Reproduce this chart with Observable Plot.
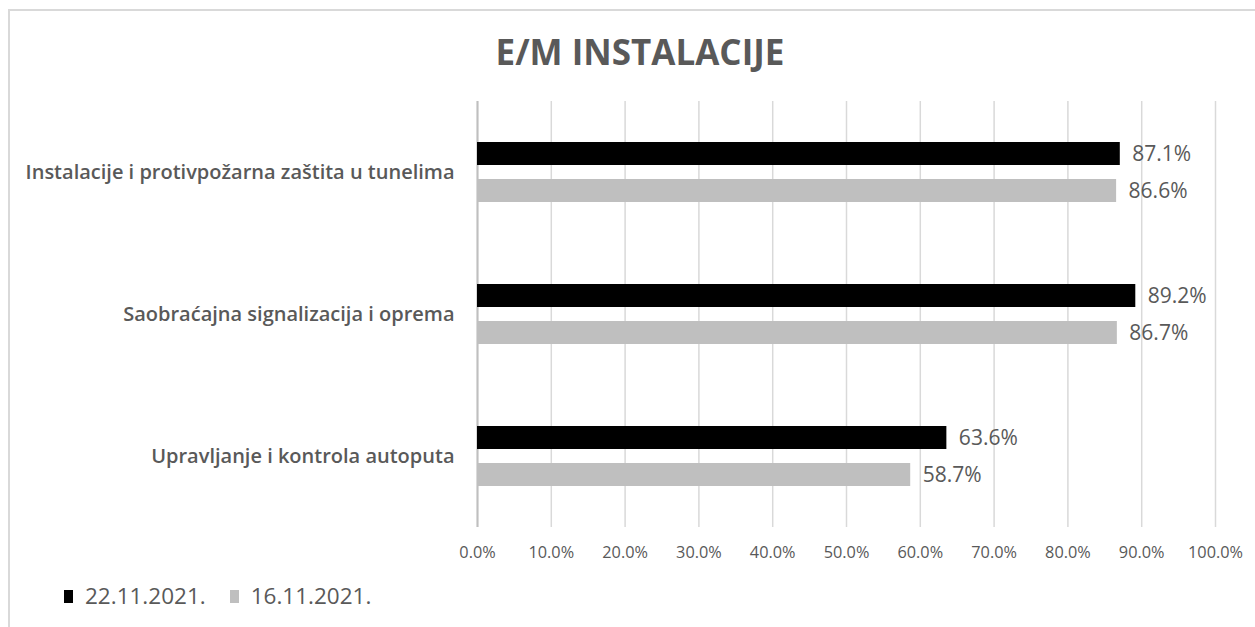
<!DOCTYPE html>
<html>
<head>
<meta charset="utf-8">
<script src="https://cdn.jsdelivr.net/npm/d3@7"></script>
<script src="https://cdn.jsdelivr.net/npm/@observablehq/plot@0.6"></script>
<style>
  html, body { margin: 0; padding: 0; background: #fff; }
  #wrap { position: relative; width: 1255px; height: 627px; overflow: hidden; font-family: "Open Sans", sans-serif; }
  #frame { position: absolute; left: 8px; top: 9px; right: -5px; bottom: -5px; border-left: 2px solid #d9d9d9; border-top: 2px solid #d9d9d9; }
  #title { position: absolute; left: 0; width: 1280px; top: 28px; text-align: center; font-size: 35px; font-weight: 700; color: #595959; line-height: 48px; }
  #chart { position: absolute; left: 0; top: 80px; }
  #legend { position: absolute; left: 64px; top: 581px; display: flex; align-items: center; font-size: 22.5px; color: #595959; line-height: 30px; }
  .sw { width: 9px; height: 13px; display: inline-block; margin-right: 12px; }
  .item { display: flex; align-items: center; margin-right: 24px; }
</style>
</head>
<body>
<div id="wrap">
  <div id="frame"></div>
  <div id="title">E/M INSTALACIJE</div>
  <div id="chart"></div>
  <div id="legend"></div>
</div>
<script>
const categories = [
  "Instalacije i protivpožarna zaštita u tunelima",
  "Saobraćajna signalizacija i oprema",
  "Upravljanje i kontrola autoputa"
];
const series = ["22.11.2021.", "16.11.2021."];
const values22 = [0.871, 0.892, 0.636];
const values16 = [0.866, 0.867, 0.587];
const xTicks = [0, 0.1, 0.2, 0.3, 0.4, 0.5, 0.6, 0.7, 0.8, 0.9, 1.0];
const colors = ["#000000", "#bfbfbf"];

const data = [];
categories.forEach((c, i) => {
  data.push({category: c, series: series[0], value: values22[i]});
  data.push({category: c, series: series[1], value: values16[i]});
});

const pct = d => (d * 100).toFixed(1) + "%";

const chart = Plot.plot({
  width: 1255,
  height: 495,
  marginLeft: 477,
  marginRight: 40,
  marginTop: 20,
  marginBottom: 48,
  style: {fontFamily: "Open Sans, sans-serif", background: "transparent"},
  x: {domain: [0, 1], ticks: xTicks, tickFormat: pct},
  y: {domain: series, axis: null, paddingInner: 0.368, paddingOuter: 1.056},
  fy: {domain: categories, padding: 0},
  color: {domain: series, range: colors},
  marks: [
    Plot.gridX(xTicks, {stroke: "#d9d9d9", strokeOpacity: 1, strokeWidth: 1.5}),
    Plot.ruleX([0], {stroke: "#bfbfbf", strokeWidth: 2}),
    Plot.barX(data, {x: "value", y: "series", fy: "category", fill: "series"}),
    Plot.text(data, {x: "value", y: "series", fy: "category", text: d => pct(d.value), textAnchor: "start", dx: 12, fill: "#595959", fontSize: 21}),
    Plot.axisX({ticks: xTicks, tickFormat: pct, tickSize: 0, tickPadding: 19, fontSize: 16.3, color: "#595959", label: null}),
    Plot.axisFy({anchor: "left", tickSize: 0, tickPadding: 23, fontSize: 20, fontWeight: 600, color: "#595959", label: null})
  ]
});
document.getElementById("chart").appendChild(chart);

const legend = document.getElementById("legend");
series.forEach((s, i) => {
  const it = document.createElement("div");
  it.className = "item";
  const sw = document.createElement("span");
  sw.className = "sw";
  sw.style.background = colors[i];
  const t = document.createElement("span");
  t.textContent = s;
  it.appendChild(sw); it.appendChild(t);
  legend.appendChild(it);
});
</script>
</body>
</html>
